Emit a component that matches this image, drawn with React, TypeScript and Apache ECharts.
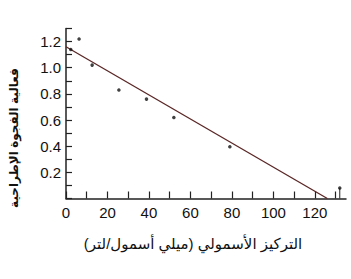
import React, { useEffect, useRef } from "react";
import * as echarts from "echarts";

const pointsX = [2.3, 6.3, 12.6, 25.5, 38.8, 52, 79, 132];
const pointsY = [1.14, 1.22, 1.02, 0.83, 0.76, 0.62, 0.395, 0.08];
const fitX = [0, 126];
const fitY = [1.16, 0];
const xTitle = "التركيز الأسمولي (ميلي أسمول/لتر)";
const yTitle = "فعالية الفجوة الإطراحية";

export default function App() {
  const ref = useRef<HTMLDivElement>(null);
  useEffect(() => {
    document.body.style.margin = "0";
    const chart = echarts.init(ref.current!, null, { renderer: "svg" });
    const font = "Liberation Sans, Arial, DejaVu Sans, sans-serif";
    const last = pointsX.length - 1;
    chart.setOption({
      animation: false,
      grid: { left: 66, right: 5, top: 28.5, bottom: 80.5, containLabel: false },
      graphic: [
        {
          type: "text",
          x: 193,
          y: 243,
          style: {
            text: xTitle,
            fill: "#111",
            fontSize: 15,
            fontFamily: font,
            align: "center",
            verticalAlign: "middle",
          },
        },
        {
          type: "text",
          x: 14,
          y: 138,
          rotation: Math.PI / 2,
          style: {
            text: yTitle,
            fill: "#111",
            fontSize: 12,
            fontWeight: "bold",
            fontFamily: font,
            align: "center",
            verticalAlign: "middle",
          },
        },
      ],
      xAxis: {
        type: "value",
        min: 0,
        max: 135,
        interval: 10,
        axisLine: { show: true, onZero: false, lineStyle: { color: "#222", width: 1.5 } },
        axisTick: { show: true, inside: true, length: 7, lineStyle: { color: "#222", width: 1.2 } },
        splitLine: { show: false },
        axisLabel: {
          color: "#111",
          fontSize: 15,
          fontFamily: font,
          margin: 6,
          showMaxLabel: false,
          formatter: (v: number) => (v % 20 === 0 ? String(v) : ""),
        },
      },
      yAxis: {
        type: "value",
        min: 0,
        max: 1.3,
        interval: 0.1,
        axisLine: { show: true, onZero: false, lineStyle: { color: "#222", width: 1.5 } },
        axisTick: { show: true, inside: true, length: 6, lineStyle: { color: "#222", width: 1.2 } },
        splitLine: { show: false },
        axisLabel: {
          color: "#111",
          fontSize: 15,
          fontFamily: font,
          margin: 5,
          formatter: (v: number) => {
            const k = Math.round(v * 10);
            return k > 0 && k < 13 && k % 2 === 0 ? v.toFixed(1) : "";
          },
        },
      },
      series: [
        {
          type: "line",
          data: fitX.map((x, i) => [x, fitY[i]]),
          showSymbol: false,
          lineStyle: { color: "#5a2626", width: 1.3 },
          z: 2,
        },
        {
          type: "line",
          data: [[pointsX[last], 0], [pointsX[last], pointsY[last]]],
          showSymbol: false,
          lineStyle: { color: "#222", width: 1 },
          z: 2,
        },
        {
          type: "scatter",
          data: pointsX.map((x, i) => [x, pointsY[i]]),
          symbol: "circle",
          symbolSize: 3.5,
          itemStyle: { color: "#111" },
          z: 3,
        },
      ],
    });
    return () => chart.dispose();
  }, []);
  return <div ref={ref} style={{ width: 351, height: 279 }} />;
}
